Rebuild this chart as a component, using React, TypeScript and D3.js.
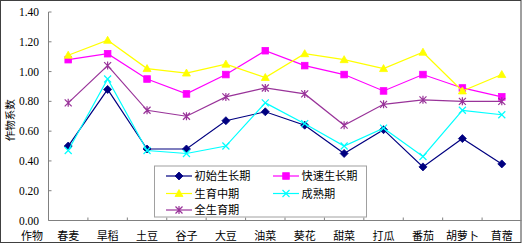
import React from "react";
import * as d3 from "d3";

const categories = ["春麦", "旱稻", "土豆", "谷子", "大豆", "油菜", "葵花", "甜菜", "打瓜", "番茄", "胡萝卜", "苜蓿"];
const initial = [0.50, 0.88, 0.48, 0.48, 0.67, 0.73, 0.64, 0.45, 0.61, 0.36, 0.55, 0.38];
const rapid = [1.08, 1.12, 0.95, 0.85, 0.98, 1.14, 1.04, 0.98, 0.87, 0.98, 0.89, 0.83];
const mid = [1.11, 1.21, 1.02, 0.99, 1.05, 0.96, 1.12, 1.08, 1.02, 1.13, 0.87, 0.98];
const mature = [0.47, 0.95, 0.47, 0.45, 0.50, 0.79, 0.65, 0.50, 0.62, 0.43, 0.74, 0.71];
const whole = [0.79, 1.04, 0.74, 0.70, 0.83, 0.89, 0.85, 0.64, 0.78, 0.81, 0.80, 0.80];
const yTicks = [0, 0.2, 0.4, 0.6, 0.8, 1.0, 1.2, 1.4];

const seriesNames = ["初始生长期", "快速生长期", "生育中期", "成熟期", "全生育期"];
const seriesData = [initial, rapid, mid, mature, whole];
const seriesColors = ["#000080", "#FF00FF", "#FFFF00", "#00FFFF", "#993399"];
const seriesMarkers = ["diamond", "square", "triangle", "x", "asterisk"];

const W = 523, H = 245;
const left = 48.5, right = 521.5, top = 12, bottom = 220.5;
const cjk = "'Noto Sans CJK SC', sans-serif";
const serif = "'Liberation Serif', 'Times New Roman', serif";

function Marker({ type, x, y, color }: { type: string; x: number; y: number; color: string }) {
  if (type === "diamond") {
    const r = 4;
    return <path d={`M${x},${y - r}L${x + r},${y}L${x},${y + r}L${x - r},${y}Z`} fill={color} stroke={color} strokeWidth={0.8} />;
  }
  if (type === "square") {
    const r = 3.3;
    return <rect x={x - r} y={y - r} width={2 * r} height={2 * r} fill={color} stroke={color} strokeWidth={0.8} />;
  }
  if (type === "triangle") {
    const r = 4;
    return <path d={`M${x},${y - r}L${x + r},${y + r * 0.75}L${x - r},${y + r * 0.75}Z`} fill={color} stroke={color} strokeWidth={0.8} />;
  }
  if (type === "x") {
    const r = 3.5;
    return <path d={`M${x - r},${y - r}L${x + r},${y + r}M${x - r},${y + r}L${x + r},${y - r}`} stroke={color} strokeWidth={1.2} fill="none" />;
  }
  const r = 3.5;
  return (
    <path
      d={`M${x - r},${y - r}L${x + r},${y + r}M${x - r},${y + r}L${x + r},${y - r}M${x},${y - r - 0.5}L${x},${y + r + 0.5}`}
      stroke={color}
      strokeWidth={1.2}
      fill="none"
    />
  );
}

export default function App() {
  const x = d3.scaleBand<string>().domain(categories).range([left, right]);
  const y = d3.scaleLinear().domain([0, 1.4]).range([bottom, top]);
  const cx = (c: string) => (x(c) as number) + x.bandwidth() / 2;
  const line = d3
    .line<number>()
    .x((_, i) => cx(categories[i]))
    .y((d) => y(d));

  const legendItems = [
    { i: 0, lx: 166, ly: 176 },
    { i: 1, lx: 273, ly: 176 },
    { i: 2, lx: 166, ly: 193.5 },
    { i: 3, lx: 273, ly: 193.5 },
    { i: 4, lx: 166, ly: 210 },
  ];

  return (
    <svg width={W} height={H} style={{ position: "fixed", left: 0, top: 0, background: "#fff" }}>
      <rect x={0.5} y={0.5} width={520.5} height={242} fill="#fff" stroke="#404040" strokeWidth={1} />
      {/* y axis */}
      <line x1={left} x2={left} y1={top} y2={bottom} stroke="#808080" strokeWidth={1} />
      {yTicks.map((t) => (
        <g key={t}>
          <line x1={left} x2={left + 3} y1={y(t)} y2={y(t)} stroke="#808080" strokeWidth={1} />
          <text x={39} y={y(t)} dy="0.35em" textAnchor="end" fontFamily={serif} fontSize={11.5} fill="#000">
            {t.toFixed(2)}
          </text>
        </g>
      ))}
      <text
        transform={`translate(14,${(top + bottom) / 2 + 4}) rotate(-90)`}
        textAnchor="middle"
        fontFamily={cjk}
        fontSize={10.5}
        fill="#000"
      >
        作物系数
      </text>
      {/* x axis */}
      <line x1={left} x2={right} y1={bottom} y2={bottom} stroke="#808080" strokeWidth={1} />
      {categories.map((c, i) =>
        i === 0 ? null : (
          <line key={"t" + c} x1={x(c) as number} x2={x(c) as number} y1={bottom} y2={bottom - 3} stroke="#808080" strokeWidth={1} />
        )
      )}
      {categories.map((c) => (
        <text key={c} x={cx(c)} y={236.5} dy="0.35em" textAnchor="middle" fontFamily={cjk} fontSize={11} fill="#000">
          {c}
        </text>
      ))}
      <text x={32} y={236.5} dy="0.35em" textAnchor="middle" fontFamily={cjk} fontSize={11} fill="#000">
        作物
      </text>
      {/* series */}
      {seriesData.map((data, si) => (
        <g key={si}>
          <path d={line(data) as string} fill="none" stroke={seriesColors[si]} strokeWidth={1.2} />
          {data.map((v, i) => (
            <Marker key={i} type={seriesMarkers[si]} x={cx(categories[i])} y={y(v)} color={seriesColors[si]} />
          ))}
        </g>
      ))}
      {/* legend */}
      <rect x={154.5} y={166} width={212} height={51} fill="#fff" stroke="#a0a0a0" strokeWidth={1} />
      {legendItems.map(({ i, lx, ly }) => (
        <g key={i}>
          <line x1={lx} x2={lx + 26} y1={ly} y2={ly} stroke={seriesColors[i]} strokeWidth={1.2} />
          <Marker type={seriesMarkers[i]} x={lx + 13} y={ly} color={seriesColors[i]} />
          <text x={lx + 28.5} y={ly} dy="0.36em" fontFamily={cjk} fontSize={11.2} fill="#000">
            {seriesNames[i]}
          </text>
        </g>
      ))}
    </svg>
  );
}
